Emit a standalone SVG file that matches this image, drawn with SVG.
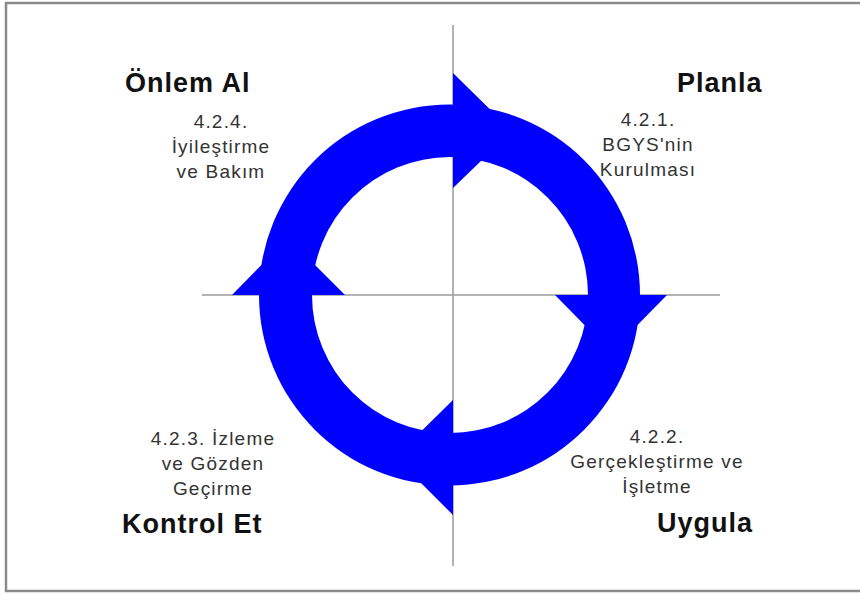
<svg xmlns="http://www.w3.org/2000/svg" width="860" height="595" viewBox="0 0 860 595">
  <style>
    .frame { fill: #ffffff; stroke: #8a8a8a; stroke-width: 2.5; }
    .axis { stroke: #9a9a9a; stroke-width: 1.5; fill: none; }
    .ring { fill: #0000ff; fill-rule: evenodd; }
    .head { fill: #0000ff; }
    .title { font-family: "Liberation Sans", Arial, sans-serif; font-weight: bold; font-size: 27px; letter-spacing: 1px; fill: #111111; }
    .step { font-family: "Liberation Sans", Arial, sans-serif; font-size: 19px; letter-spacing: 1.2px; fill: #333333; text-anchor: middle; }
  </style>

  <rect class="frame" x="6" y="3" width="872" height="588"/>

  <!-- quadrant axes -->
  <g id="connectors">
    <line class="axis" x1="453" y1="25" x2="453" y2="566"/>
    <line class="axis" x1="202" y1="295" x2="720" y2="295"/>
  </g>

  <!-- circular cycle band (annulus) with four clockwise arrowheads -->
  <g id="cycle">
    <path class="ring" d="M 259 295 A 190.5 190.5 0 0 0 640 295 A 190.5 190.5 0 0 0 259 295 Z M 312 295 A 138 138 0 0 0 588 295 A 138 138 0 0 0 312 295 Z"/>
    <polygon class="head" points="453,73 512,131 453,188"/>
    <polygon class="head" points="555,295 611,352 667,295"/>
    <polygon class="head" points="453,400 395,457 453,515"/>
    <polygon class="head" points="232,295 288,238 345,295"/>
  </g>

  <g id="planla">
    <text class="title" x="677" y="92">Planla</text>
    <text class="step" x="648" y="126">4.2.1.</text>
    <text class="step" x="648" y="151">BGYS'nin</text>
    <text class="step" x="648" y="176">Kurulması</text>
  </g>

  <g id="uygula">
    <text class="title" x="657" y="532">Uygula</text>
    <text class="step" x="657" y="443">4.2.2.</text>
    <text class="step" x="657" y="468">Gerçekleştirme ve</text>
    <text class="step" x="657" y="493">İşletme</text>
  </g>

  <g id="kontrol-et">
    <text class="title" x="122" y="533">Kontrol Et</text>
    <text class="step" x="213" y="445">4.2.3. İzleme</text>
    <text class="step" x="213" y="470">ve Gözden</text>
    <text class="step" x="213" y="495">Geçirme</text>
  </g>

  <g id="onlem-al">
    <text class="title" x="125" y="92">Önlem Al</text>
    <text class="step" x="221" y="128">4.2.4.</text>
    <text class="step" x="221" y="153">İyileştirme</text>
    <text class="step" x="221" y="178">ve Bakım</text>
  </g>
</svg>
